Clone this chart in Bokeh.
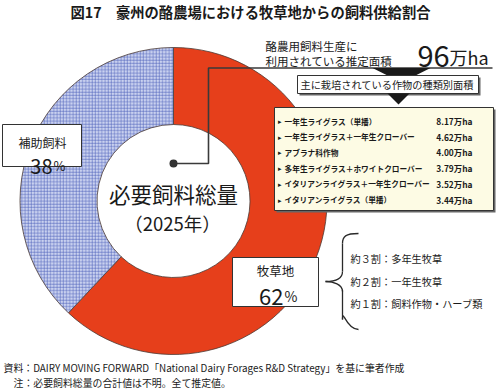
import numpy as np
from bokeh.plotting import figure
from bokeh.core.properties import value
from bokeh.embed import file_html
from bokeh.resources import INLINE

# ---------------- data ----------------
title = "図17　豪州の酪農場における牧草地からの飼料供給割合"
share_labels = ["牧草地", "補助飼料"]
shares = [62, 38]
center_label = ["必要飼料総量", "（2025年）"]
total_area_caption = ["酪農用飼料生産に", "利用されている推定面積"]
total_area = 96
crops_caption = "主に栽培されている作物の種類別面積"
crops = ["一年生ライグラス（単播）", "一年生ライグラス＋一年生クローバー", "アブラナ科作物",
         "多年生ライグラス＋ホワイトクローバー", "イタリアンライグラス＋一年生クローバー",
         "イタリアンライグラス（単播）"]
crop_areas = [8.17, 4.62, 4.00, 3.79, 3.52, 3.44]
pasture_breakdown = ["約３割：多年生牧草", "約２割：一年生牧草", "約１割：飼料作物・ハーブ類"]
notes = ["資料：DAIRY MOVING FORWARD「National Dairy Forages R&D Strategy」を基に筆者作成",
         "注：必要飼料総量の合計値は不明。全て推定値。"]

F = "Noto Sans CJK JP"
W, H = 500, 391

def X(px):
    return px

def Y(py):
    return H - py

p = figure(width=W, height=H, x_range=(0, W), y_range=(0, H), output_backend="svg",
           toolbar_location=None, min_border=0, x_axis_type=None, y_axis_type=None)
p.grid.visible = False
p.outline_line_color = None
p.background_fill_color = "white"
p.border_fill_color = "white"

def txt(x, y, s, size, align="left", bold=False, color="#1a1a1a"):
    p.text(x=[X(x)], y=[Y(y)], text=[s], text_font=value(F), text_font_size=value(f"{size}px"),
           text_align=align, text_baseline="middle", text_color=color,
           text_font_style="bold" if bold else "normal")

def box(x0, y0, x1, y1, fill="white", shadow=False, lw=1.0):
    if shadow:
        p.quad(left=[X(x0) + 2], right=[X(x1) + 2], top=[Y(y0) - 2], bottom=[Y(y1) - 2],
               fill_color="#666666", line_color=None)
    p.quad(left=[X(x0)], right=[X(x1)], top=[Y(y0)], bottom=[Y(y1)],
           fill_color=fill, line_color="#333333", line_width=lw)

# ---------------- title ----------------
txt(250, 11, title, 14.3, align="center", bold=True)

# ---------------- donut ----------------
cx, cy = X(173), Y(200.5)
r_out, r_in = 153.5, 76.5
fr = np.array(shares, dtype=float) / sum(shares)
ang = fr * 2 * np.pi
starts = np.pi / 2 - np.concatenate([[0.0], np.cumsum(ang)[:-1]])
ends = starts - ang

p.annular_wedge(x=[cx], y=[cy], inner_radius=r_in, outer_radius=r_out,
                start_angle=[starts[0]], end_angle=[ends[0]], direction="clock",
                fill_color="#e63f1b", line_color="#4a3a35", line_width=0.8)
p.annular_wedge(x=[cx], y=[cy], inner_radius=r_in, outer_radius=r_out,
                start_angle=[starts[1]], end_angle=[ends[1]], direction="clock",
                fill_color="#c9d1ef", hatch_pattern="+", hatch_color="#5b6cc0",
                hatch_scale=3.2, hatch_weight=0.6,
                line_color="#4a3a35", line_width=0.8)

# center text
txt(173, 193, center_label[0], 21.5, align="center")
txt(172, 222, center_label[1], 18.5, align="center")

# ---------------- leader from center ----------------
p.line(x=[X(173), X(208), X(208), X(492)], y=[Y(163), Y(163), Y(67.5), Y(67.5)],
       line_color="#3a3a3a", line_width=1.6)
p.scatter(x=[X(173)], y=[Y(163)], size=8, fill_color="#333333", line_color=None)

# total area caption
txt(265, 45.5, total_area_caption[0], 11.5)
txt(265, 60, total_area_caption[1], 11.5)
p.text(x=[X(417)], y=[Y(56)], text=[str(total_area)], text_font=value(F),
       text_font_size=value("29px"), text_align="left", text_baseline="alphabetic",
       text_color="#1a1a1a")
p.text(x=[X(449)], y=[Y(56)], text=["万ha"], text_font=value(F),
       text_font_size=value("18px"), text_align="left", text_baseline="alphabetic",
       text_color="#1a1a1a")

# triangle under leader line + caption box
p.patch(x=[X(372), X(430), X(401)], y=[Y(67.5), Y(67.5), Y(82)], fill_color="#1a1a1a", line_color=None)
box(297, 75, 478, 93, fill="white", shadow=True)
txt(300, 84, crops_caption, 10.2)
p.patch(x=[X(387), X(409), X(398)], y=[Y(93), Y(93), Y(104)], fill_color="#1a1a1a", line_color=None)

# crop list box
box(274, 107, 493, 210, fill="#fdfbe4", shadow=True)
for i, (name, a) in enumerate(zip(crops, crop_areas)):
    yy = 120.5 + i * 15.7
    txt(277, yy, "▸", 7)
    txt(284, yy, name, 7.7, bold=True)
    txt(472, yy, f"{a:.2f}万ha", 8.4, align="right", bold=True)

# ---------------- share labels ----------------
box(2, 124, 81, 166, fill="white")
txt(42, 142, share_labels[1], 12, align="center")
p.text(x=[X(52)], y=[Y(166)], text=[f"{shares[1]}"], text_font=value(F), text_font_size=value("20px"),
       text_align="right", text_baseline="alphabetic", text_color="#1a1a1a")
p.text(x=[X(53)], y=[Y(165)], text=["%"], text_font=value(F), text_font_size=value("13px"),
       text_align="left", text_baseline="alphabetic", text_color="#1a1a1a")

box(232, 257, 318, 306, fill="white")
txt(275, 270, share_labels[0], 12.5, align="center")
p.text(x=[X(283)], y=[Y(296)], text=[f"{shares[0]}"], text_font=value(F), text_font_size=value("22px"),
       text_align="right", text_baseline="alphabetic", text_color="#1a1a1a")
p.text(x=[X(284)], y=[Y(295)], text=["%"], text_font=value(F), text_font_size=value("14px"),
       text_align="left", text_baseline="alphabetic", text_color="#1a1a1a")

# ---------------- brace ----------------
bx0 = [358, 342, 342, 325, 342, 342]
by0 = [233, 243, 271, 281, 291, 319]
bx1 = [342, 342, 325, 342, 342, 358]
by1 = [243, 271, 281, 291, 319, 329]
c0x = [345, 342, 342, 333, 342, 342]
c0y = [233, 255, 278, 281, 284, 306]
c1x = [342, 342, 335, 342, 342, 345]
c1y = [236, 259, 281, 284, 304, 329]
p.bezier(x0=[X(v) for v in bx0], y0=[Y(v) for v in by0], x1=[X(v) for v in bx1], y1=[Y(v) for v in by1],
         cx0=[X(v) for v in c0x], cy0=[Y(v) for v in c0y], cx1=[X(v) for v in c1x], cy1=[Y(v) for v in c1y],
         line_color="#2a2a2a", line_width=1.3)
for i, s in enumerate(pasture_breakdown):
    txt(350, 258 + i * 22.5, s, 10.2)

# ---------------- notes ----------------
txt(3, 367, notes[0], 9.9)
txt(13, 382, notes[1], 9.9)

open("out.html", "w").write(file_html(p, INLINE))
